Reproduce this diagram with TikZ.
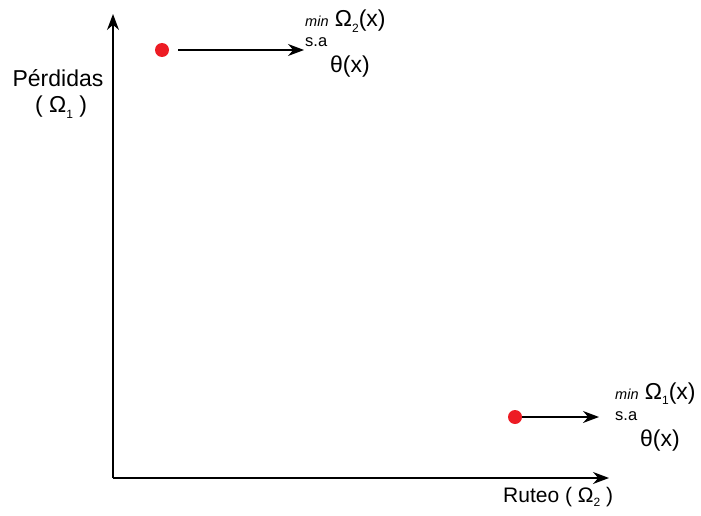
\documentclass[tikz,border=0pt]{standalone}
\usepackage{fontspec}
\setmainfont{Liberation Sans}
\usetikzlibrary{arrows.meta}
\newcommand{\lowsub}[1]{\raisebox{-0.45ex}{\fontsize{12}{14}\selectfont #1}}

\begin{document}
\begin{tikzpicture}[
    x=1pt, y=-1pt,
    dot/.style={circle, fill=dotred, minimum size=14pt, inner sep=0pt},
    axis/.style={-{Stealth[length=16pt, width=12pt]}, line width=1.4pt},
    lbl/.style={font=\fontsize{23}{27}\selectfont, inner sep=0pt},
    sa/.style={font=\fontsize{16.5}{19}\selectfont, inner sep=0pt},
    >=Stealth
]
\definecolor{dotred}{RGB}{237,28,36}
\useasboundingbox (0,0) rectangle (701,516);

% ======================
% Axes
% ======================
\coordinate (O)    at (113,478);
\coordinate (ytop) at (113,14);
\coordinate (xend) at (609,478);
\draw[axis] (O) -- (ytop);
\draw[axis] (O) -- (xend);

% ======================
% Axis labels
% ======================
\node[lbl] (ylab) at (58,78)  {Pérdidas};
\node[lbl] (ysym) at (61,107) {( Ω\lowsub{1} )};
\node[lbl, font=\fontsize{21}{25}\selectfont, anchor=base west] (xlab) at (503,502)
    {Ruteo ( Ω\lowsub{2} )};

% ======================
% Upper point
% ======================
\node[dot] (P1) at (162,50) {};
\coordinate (A1) at (304,50);
\draw[axis, shorten <=9pt] (P1) -- (A1);

\node[lbl, anchor=base west] (F2) at (305,27)
    {{\fontsize{14.5}{17}\selectfont\itshape min} Ω\lowsub{2}(x)};
\node[sa,  anchor=base west] (S2) at (305,47) {s.a};
\node[lbl, anchor=base west] (T2) at (330,73) {θ(x)};

% ======================
% Lower point
% ======================
\node[dot] (P2) at (515,417) {};
\coordinate (A2) at (599,417);
\draw[axis] (P2) -- (A2);

\node[lbl, anchor=base west] (F1) at (615,399)
    {{\fontsize{14.5}{17}\selectfont\itshape min} Ω\lowsub{1}(x)};
\node[sa,  anchor=base west] (S1) at (615,420) {s.a};
\node[lbl, anchor=base west] (T1) at (640,446) {θ(x)};

\end{tikzpicture}
\end{document}
